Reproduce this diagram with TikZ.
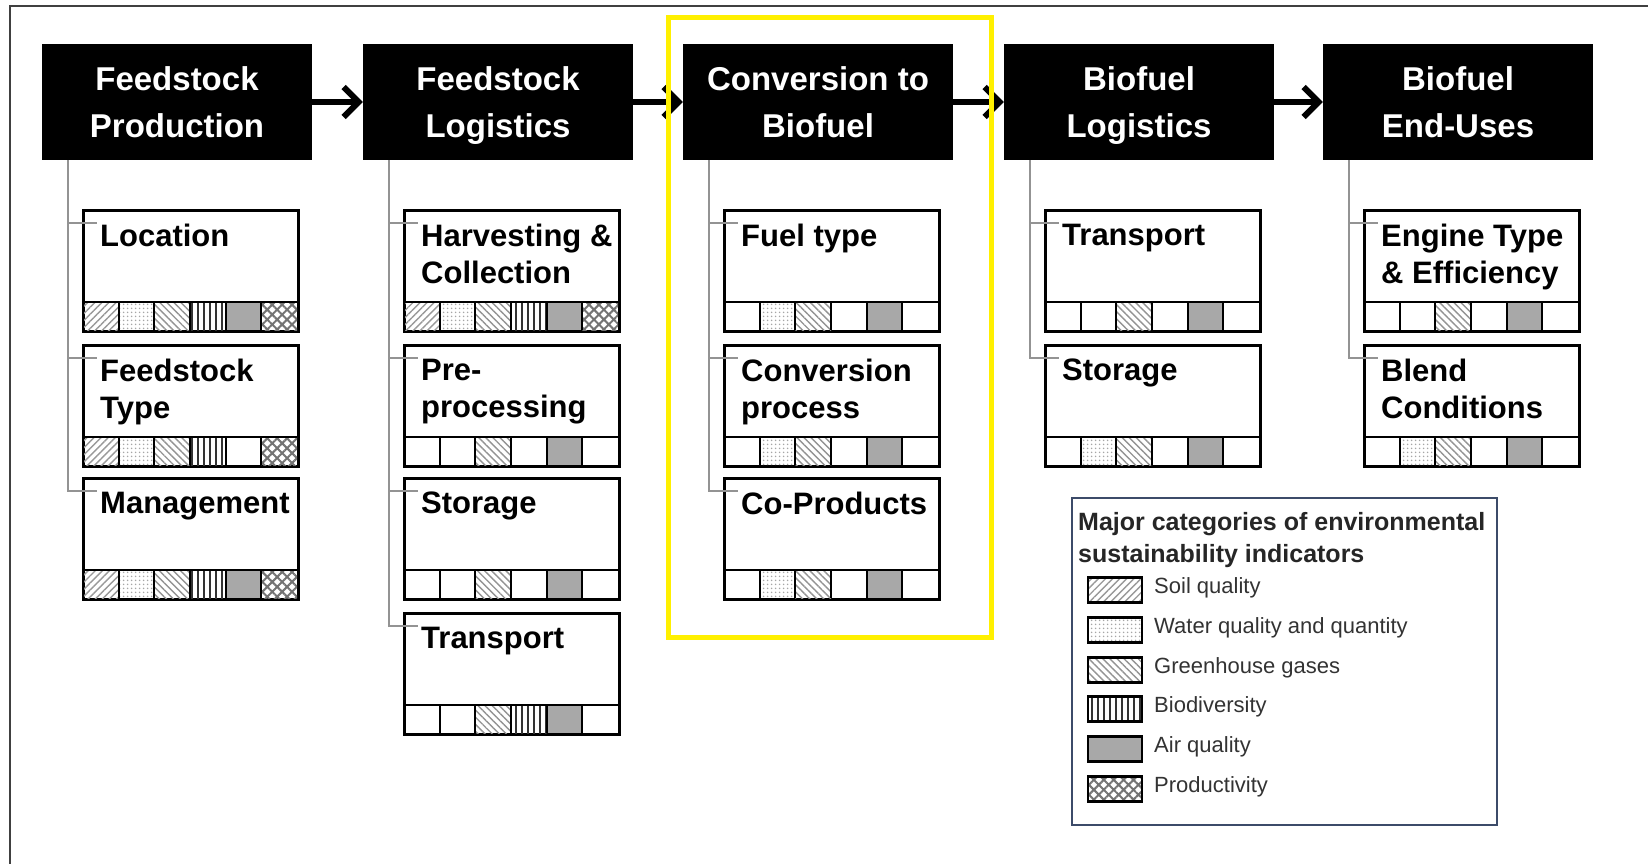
\documentclass[tikz,border=0pt]{standalone}
\usepackage{fontspec}
\setmainfont{Liberation Sans}
\usetikzlibrary{patterns.meta,arrows.meta}
\definecolor{yel}{RGB}{255,240,0}
\definecolor{legblue}{RGB}{60,75,105}
\definecolor{airgray}{RGB}{168,168,168}
\tikzset{
  hdr/.style={fill=black, text=white, font=\bfseries\fontsize{33}{47}\selectfont, align=center,
    minimum width=270pt, minimum height=116pt, inner sep=0pt},
  sub/.style={draw=black, line width=2.2pt, fill=white, minimum width=214pt, minimum height=120pt,
    anchor=north west, inner sep=0pt},
  subtxt/.style={anchor=north west, inner sep=0pt, align=left, font=\bfseries\fontsize{31}{37}\selectfont},
  tree/.style={draw=gray!85, line width=1.8pt},
  flow/.style={-{Straight Barb[length=15pt,width=30pt]}, line width=6pt},
  pat1/.style={pattern={Lines[angle=45,distance=5pt,line width=1.4pt]}, pattern color=gray!80},
  pat2/.style={pattern={Dots[radius=1pt,distance=4pt]}, pattern color=gray!70},
  pat3/.style={pattern={Lines[angle=-45,distance=5pt,line width=1.4pt]}, pattern color=gray!85},
  pat4/.style={pattern={Lines[angle=90,distance=6pt,line width=1.8pt]}, pattern color=black!80},
  pat5/.style={fill=airgray},
  pat6/.style={pattern={Hatch[angle=45,distance=7pt,line width=2pt]}, pattern color=gray!90!black},
  swatch/.style={draw=black, line width=2.5pt, minimum width=54pt, minimum height=25pt, inner sep=0pt},
  legtxt/.style={anchor=west, inner sep=0pt, font=\fontsize{22}{26}\selectfont, text=black!80},
}
\newcommand\nodesc[1]{\raisebox{0pt}[\height][0pt]{#1}}
% #1 name, #2 left x, #3 top y, #4 text, #5 list of indicator cells
\newcommand\ibox[5]{%
  \node[sub] (#1) at (#2,#3) {};
  \foreach \k in {#5} {\path[pat\k] ({#2+(\k-1)*214/6},{#3+92}) rectangle ++(214/6,28);}
  \draw[line width=2pt] (#2,{#3+92}) -- ({#2+214},{#3+92});
  \foreach \k in {1,...,5} {\draw[line width=2pt] ({#2+\k*214/6},{#3+92}) -- ++(0,28);}
  \draw[line width=2.2pt] (#1.north west) rectangle (#1.south east);
  \node[subtxt] (#1t) at ([xshift=17pt,yshift=-14pt]#1.north west) {#4};
}
\begin{document}
\begin{tikzpicture}[x=1pt,y=-1pt]
\useasboundingbox (0,0) rectangle (1648,864);
\fill[white] (0,0) rectangle (1648,864);
% frame
\draw[line width=2pt, black!75] (10,864) -- (10,6) -- (1648,6);

% headers
\node[hdr] (h1) at (177,102) {Feedstock\\Production};
\node[hdr] (h2) at (498,102) {Feedstock\\\nodesc{Logistics}};
\node[hdr] (h3) at (818,102) {Conversion to\\Biofuel};
\node[hdr] (h4) at (1139,102) {Biofuel\\\nodesc{Logistics}};
\node[hdr] (h5) at (1458,102) {Biofuel\\End-Uses};
\draw[flow] (h1) -- (h2);
\draw[flow] (h2) -- (h3);
\draw[flow] (h3) -- (h4);
\draw[flow] (h4) -- (h5);

% column 1
\ibox{c1a}{83}{210}{Location}{1,2,3,4,5,6}
\ibox{c1b}{83}{345}{Feedstock\\Type}{1,2,3,4,6}
\ibox{c1c}{83}{478}{Management}{1,2,3,4,5,6}
% column 2
\ibox{c2a}{404}{210}{Harvesting \&\\Collection}{1,2,3,4,5,6}
\ibox{c2b}{404}{345}{Pre-\\processing}{3,5}
\ibox{c2c}{404}{478}{Storage}{3,5}
\ibox{c2d}{404}{613}{Transport}{3,4,5}
% column 3
\ibox{c3a}{724}{210}{Fuel type}{2,3,5}
\ibox{c3b}{724}{345}{Conversion\\process}{2,3,5}
\ibox{c3c}{724}{478}{Co-Products}{2,3,5}
% column 4
\ibox{c4a}{1045}{210}{Transport}{3,5}
\ibox{c4b}{1045}{345}{Storage}{2,3,5}
% column 5
\ibox{c5a}{1364}{210}{Engine Type\\\& Efficiency}{3,5}
\ibox{c5b}{1364}{345}{Blend\\Conditions}{2,3,5}

% tree connectors
\foreach \h/\last/\others in {h1/c1c/{c1a,c1b}, h2/c2d/{c2a,c2b,c2c}, h3/c3c/{c3a,c3b}, h4/c4b/{c4a}, h5/c5b/{c5a}} {
  \draw[tree] ([xshift=26pt]\h.south west) |- ([xshift=14pt,yshift=-13pt]\last.north west);
  \foreach \c in \others {
    \draw[tree] ([xshift=-15pt,yshift=-13pt]\c.north west) -- ([xshift=14pt,yshift=-13pt]\c.north west);
  }
}

% highlight
\draw[yel, line width=5pt] (668,18) rectangle (991,637);

% legend
\node[draw=legblue, line width=2pt, minimum width=425pt, minimum height=327pt, anchor=north west, inner sep=0pt] (leg) at (1071,497) {};
\node[anchor=north west, inner sep=0pt, align=left, font=\bfseries\fontsize{25}{32}\selectfont, text=black!85] (legt) at (1078,512) {Major categories of environmental\\sustainability indicators};
\node[swatch, pat1] (s1) at (1115,590) {};
\node[swatch, pat2] (s2) at (1115,630) {};
\node[swatch, pat3] (s3) at (1115,670) {};
\node[swatch, pat4] (s4) at (1115,709) {};
\node[swatch, pat5] (s5) at (1115,749) {};
\node[swatch, pat6] (s6) at (1115,789) {};
\node[legtxt] (l1) at (1154,588) {Soil quality};
\node[legtxt] (l2) at (1154,628) {Water quality and quantity};
\node[legtxt] (l3) at (1154,668) {Greenhouse gases};
\node[legtxt] (l4) at (1154,707) {Biodiversity};
\node[legtxt] (l5) at (1154,747) {Air quality};
\node[legtxt] (l6) at (1154,787) {Productivity};
\end{tikzpicture}
\end{document}
